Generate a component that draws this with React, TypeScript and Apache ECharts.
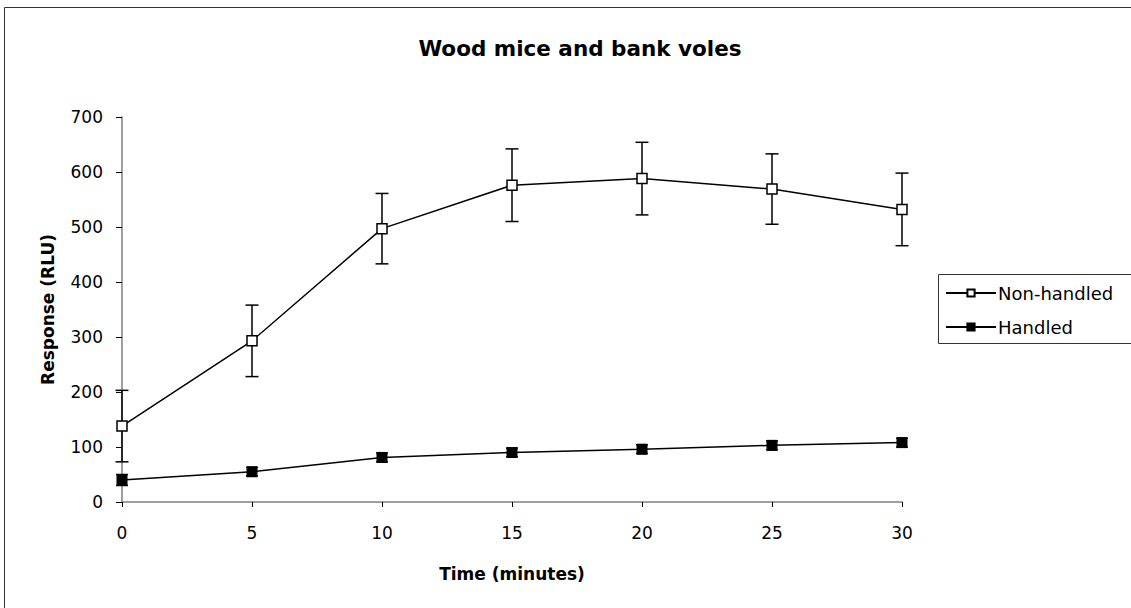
import React, { useEffect, useRef } from "react";
import * as echarts from "echarts";

const times = [0, 5, 10, 15, 20, 25, 30];
const nonHandled = [138, 293, 497, 576, 588, 569, 532];
const nonHandledErr = [65, 65, 64, 66, 66, 64, 66];
const handled = [40, 55, 81, 90, 96, 103, 108];
const handledErr = [10, 8, 8, 8, 8, 8, 8];
const yTicks = [0, 100, 200, 300, 400, 500, 600, 700];
const xTicks = [0, 5, 10, 15, 20, 25, 30];

const FONT = "'DejaVu Sans', 'Liberation Sans', Arial, sans-serif";

function errorSeries(name: string, vals: number[], errs: number[], cap: number) {
  return {
    type: "custom",
    name: name + "-err",
    z: 1,
    silent: true,
    data: times.map((t, i) => [t, vals[i] - errs[i], vals[i] + errs[i]]),
    renderItem: (params: any, api: any) => {
      const x = api.value(0);
      const lo = api.coord([x, api.value(1)]);
      const hi = api.coord([x, api.value(2)]);
      const style = { stroke: "#000", lineWidth: 1.5 };
      return {
        type: "group",
        children: [
          { type: "line", shape: { x1: lo[0], y1: lo[1], x2: hi[0], y2: hi[1] }, style },
          { type: "line", shape: { x1: lo[0] - cap, y1: lo[1], x2: lo[0] + cap, y2: lo[1] }, style },
          { type: "line", shape: { x1: hi[0] - cap, y1: hi[1], x2: hi[0] + cap, y2: hi[1] }, style },
        ],
      };
    },
  };
}

export default function App() {
  const ref = useRef<HTMLDivElement>(null);
  useEffect(() => {
    document.body.style.margin = "0";
    const chart = echarts.init(ref.current!, null, { renderer: "svg" });
    chart.setOption({
      animation: false,
      backgroundColor: "#fff",
      textStyle: { fontFamily: FONT },
      title: {
        text: "Wood mice and bank voles",
        left: 575,
        top: 32,
        textAlign: "center",
        textStyle: { fontFamily: FONT, fontSize: 21.5, fontWeight: "bold", color: "#000" },
      },
      graphic: [
        {
          type: "rect",
          shape: { x: 4.5, y: 7.5, width: 1200, height: 700 },
          style: { fill: "none", stroke: "#333", lineWidth: 1 },
          z: 0,
        },
        {
          type: "rect",
          shape: { x: 938.5, y: 274.5, width: 300, height: 69 },
          style: { fill: "none", stroke: "#333", lineWidth: 1 },
          z: 0,
        },
      ],
      legend: {
        data: ["Non-handled", "Handled"],
        orient: "vertical",
        left: 945,
        top: 284,
        itemWidth: 50,
        itemHeight: 9,
        itemGap: 16,
        textStyle: { fontFamily: FONT, fontSize: 18, color: "#000", padding: [0, 0, 0, -3] },
        padding: 0,
      },
      grid: { left: 122, top: 117, right: 229, bottom: 106, containLabel: false },
      xAxis: {
        type: "value",
        min: 0,
        max: 30,
        interval: 5,
        name: "Time (minutes)",
        nameLocation: "middle",
        nameGap: 63,
        nameTextStyle: { fontFamily: FONT, fontSize: 17, fontWeight: "bold", color: "#000" },
        axisLine: { lineStyle: { color: "#808080", width: 1.5 } },
        axisTick: { show: true, length: 5, inside: false, lineStyle: { color: "#000" } },
        axisLabel: {
          margin: 22,
          fontFamily: FONT,
          fontSize: 17,
          color: "#000",
          formatter: (v: number) => (xTicks.includes(v) ? String(v) : ""),
        },
        splitLine: { show: false },
      },
      yAxis: {
        type: "value",
        min: 0,
        max: 700,
        interval: 100,
        name: "Response (RLU)",
        nameLocation: "middle",
        nameGap: 66,
        nameTextStyle: { fontFamily: FONT, fontSize: 17, fontWeight: "bold", color: "#000" },
        axisLine: { show: true, lineStyle: { color: "#808080", width: 1.5 } },
        axisTick: { show: true, length: 6, inside: false, lineStyle: { color: "#000" } },
        axisLabel: {
          margin: 19,
          fontFamily: FONT,
          fontSize: 17,
          color: "#000",
          formatter: (v: number) => (yTicks.includes(v) ? String(v) : ""),
        },
        splitLine: { show: false },
      },
      series: [
        errorSeries("Non-handled", nonHandled, nonHandledErr, 6.5),
        errorSeries("Handled", handled, handledErr, 6),
        {
          type: "line",
          name: "Non-handled",
          z: 3,
          data: times.map((t, i) => [t, nonHandled[i]]),
          symbol: "rect",
          symbolSize: 10,
          showAllSymbol: true,
          lineStyle: { color: "#000", width: 1.5 },
          itemStyle: { color: "#fff", borderColor: "#000", borderWidth: 1.5 },
        },
        {
          type: "line",
          name: "Handled",
          z: 3,
          data: times.map((t, i) => [t, handled[i]]),
          symbol: "rect",
          symbolSize: 10,
          showAllSymbol: true,
          lineStyle: { color: "#000", width: 1.5 },
          itemStyle: { color: "#000", borderColor: "#000", borderWidth: 1 },
        },
      ],
    });
    return () => chart.dispose();
  }, []);
  return (
    <div
      ref={ref}
      style={{ position: "fixed", left: 0, top: 0, width: 1131, height: 608 }}
    />
  );
}
